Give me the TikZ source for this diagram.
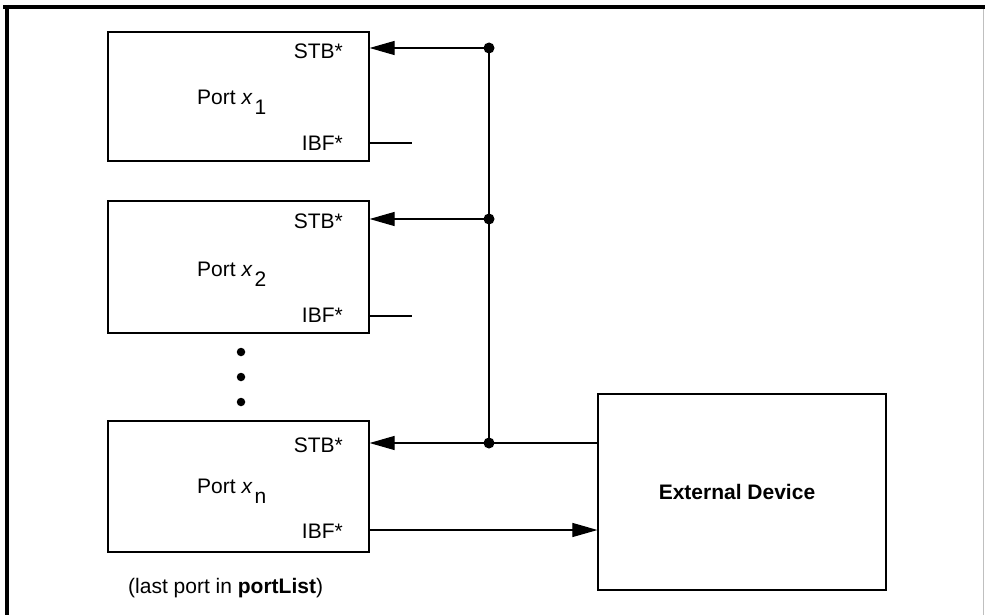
\documentclass[tikz,border=0pt]{standalone}
\usepackage{fontspec}
\setmainfont{Liberation Sans}
\usetikzlibrary{arrows.meta}
\tikzset{
  portbox/.style={draw, line width=1.2pt, inner sep=0pt, minimum width=261pt},
  lbl/.style={inner sep=0pt, font=\fontsize{21}{25}\selectfont},
  wire/.style={line width=1.1pt},
  arr/.style={wire, -{Triangle[length=25pt,width=14pt]}},
  jdot/.style={circle, fill=black, inner sep=0pt, minimum size=11pt},
  vdot/.style={circle, fill=black, inner sep=0pt, minimum size=8.5pt},
}
\begin{document}
\begin{tikzpicture}[x=1pt,y=-1pt]
\useasboundingbox (0,0) rectangle (985,615);
% frame
\draw[line width=4pt] (3,7) -- (985,7);
\draw[line width=4pt] (7,5) -- (7,615);
\draw[black!25, line width=1pt] (983.5,9) -- (983.5,615);

% boxes
\node[portbox, minimum height=129pt] (b1) at (238.5,96.5) {};
\node[portbox, minimum height=132pt] (b2) at (238.5,267) {};
\node[portbox, minimum height=131pt] (b3) at (238.5,486.5) {};
\node[draw, line width=1.2pt, inner sep=0pt, minimum width=288pt, minimum height=196pt] (ext) at (742,492) {};
\node[lbl, font=\fontsize{21}{25}\selectfont\bfseries] (extl) at (737,492) {External Device};

% labels
\node[lbl, anchor=base east] (stb1) at (343,59) {STB*};
\node[lbl, anchor=base east] (ibf1) at (343,150) {IBF*};
\node[lbl, anchor=base west] (p1) at (197,105) {Port \textit{x}\kern2pt\raisebox{-10pt}{1}};
\node[lbl, anchor=base east] (stb2) at (343,228) {STB*};
\node[lbl, anchor=base east] (ibf2) at (343,322) {IBF*};
\node[lbl, anchor=base west] (p2) at (197,276) {Port \textit{x}\kern2pt\raisebox{-10pt}{2}};
\node[lbl, anchor=base east] (stb3) at (343,452) {STB*};
\node[lbl, anchor=base east] (ibf3) at (343,538) {IBF*};
\node[lbl, anchor=base west] (p3) at (197,493) {Port \textit{x}\kern2pt\raisebox{-10pt}{n}};
\node[lbl, anchor=base west] (note) at (128,593) {(last port in \textbf{portList})};

% ellipsis dots
\node[vdot] (d1) at (241,352) {};
\node[vdot] (d2) at (241,377) {};
\node[vdot] (d3) at (241,402) {};

% junctions
\coordinate (j1) at (489,48);
\coordinate (j2) at (489,219);
\coordinate (j3) at (489,443);
\coordinate (i1) at (412,143);
\coordinate (i2) at (412,316);
\coordinate (i3) at (412,530);

\draw[wire] (j1) -- (j3);
\draw[arr] (j1) -- (j1 -| b1.east);
\draw[arr] (j2) -- (j2 -| b2.east);
\draw[arr] (j3 -| ext.west) -- (j3 -| b3.east);
\draw[wire] (i1 -| b1.east) -- (i1);
\draw[wire] (i2 -| b2.east) -- (i2);
\draw[arr] (i3 -| b3.east) -- (i3 -| ext.west);

\node[jdot] at (j1) {};
\node[jdot] at (j2) {};
\node[jdot] at (j3) {};
\end{tikzpicture}
\end{document}
